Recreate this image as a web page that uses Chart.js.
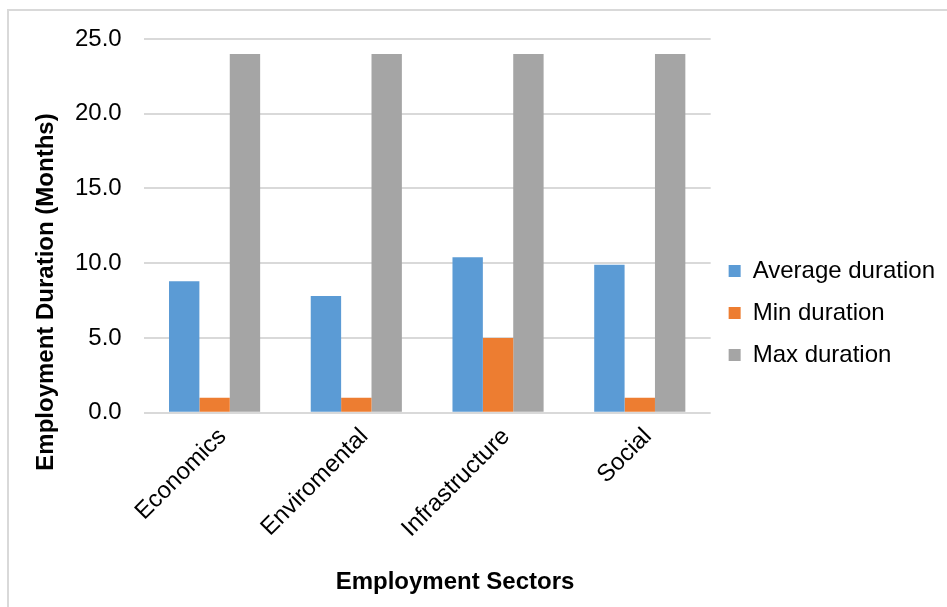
<!DOCTYPE html>
<html>
<head>
<meta charset="utf-8">
<script src="https://cdn.jsdelivr.net/npm/chart.js"></script>
<style>
  html, body { margin: 0; padding: 0; background: #fff; overflow: hidden; }
  #frame { position: absolute; left: 7px; top: 9px; width: 1000px; height: 700px; border: 2px solid #d9d9d9; }
  #wrap { position: absolute; left: 0; top: 0; width: 947px; height: 607px; }
</style>
</head>
<body>
<div id="frame"></div>
<div id="wrap"><canvas id="durationChart"></canvas></div>
<script>
const sectors = ["Economics", "Enviromental", "Infrastructure", "Social"];
const avgDuration = [8.8, 7.8, 10.4, 9.9];
const minDuration = [1, 1, 5, 1];
const maxDuration = [24, 24, 24, 24];
const yTicks = [0, 5, 10, 15, 20, 25];

const FONT = "'Liberation Sans', Arial, sans-serif";

// axis titles are drawn by hand so they can sit where the layout wants them
const axisTitles = {
  id: "axisTitles",
  afterDraw(chart) {
    const ctx = chart.ctx;
    ctx.save();
    ctx.font = "bold 24px " + FONT;
    ctx.fillStyle = "#000";
    ctx.textAlign = "center";
    ctx.textBaseline = "middle";
    ctx.fillText("Employment Sectors", 455, 582);
    ctx.translate(46, 292);
    ctx.rotate(-Math.PI / 2);
    ctx.fillText("Employment Duration (Months)", 0, 0);
    ctx.restore();
  }
};

function renderChart() {
  const ctx = document.getElementById("durationChart");

  new Chart(ctx, {
    type: "bar",
    data: {
      labels: sectors,
      datasets: [
        { label: "Average duration", data: avgDuration, backgroundColor: "#5b9bd5" },
        { label: "Min duration", data: minDuration, backgroundColor: "#ed7d31" },
        { label: "Max duration", data: maxDuration, backgroundColor: "#a5a5a5" }
      ]
    },
    options: {
      responsive: true,
      maintainAspectRatio: false,
      animation: false,
      categoryPercentage: 0.643,
      barPercentage: 1.0,
      layout: {
        padding: { left: 53, top: 39, right: 2, bottom: 62 }
      },
      plugins: {
        tooltip: { enabled: false },
        legend: {
          position: "right",
          maxWidth: 235,
          title: { display: true, text: " ", font: { size: 10 }, padding: { top: 30, bottom: 0 } },
          labels: {
            color: "#000",
            font: { family: FONT, size: 24 },
            boxWidth: 12,
            boxHeight: 12,
            padding: 18
          }
        }
      },
      scales: {
        x: {
          grid: { display: false },
          border: { display: false },
          ticks: {
            color: "#000",
            font: { family: FONT, size: 24 },
            minRotation: 45,
            maxRotation: 45,
            padding: 2,
            labelOffset: 8
          }
        },
        y: {
          min: 0,
          max: 25,
          afterBuildTicks: axis => {
            axis.ticks = yTicks.map(v => ({ value: v }));
          },
          grid: { color: "#d9d9d9", lineWidth: 2, drawTicks: false },
          border: { display: false },
          ticks: {
            color: "#000",
            font: { family: FONT, size: 24 },
            padding: 22,
            callback: v => Number(v).toFixed(1)
          }
        }
      }
    },
    plugins: [axisTitles]
  });
}

window.addEventListener("DOMContentLoaded", renderChart);
</script>
</body>
</html>
